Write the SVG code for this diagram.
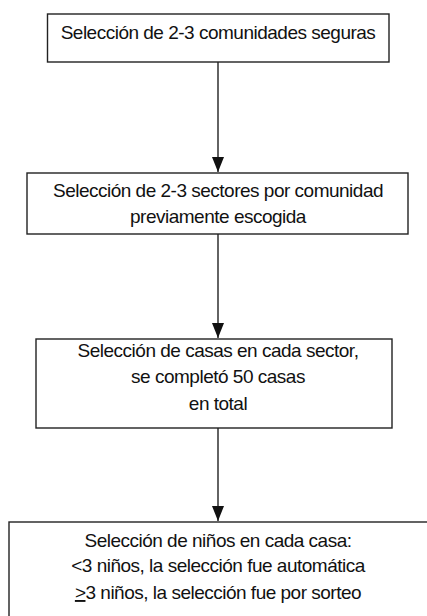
<svg xmlns="http://www.w3.org/2000/svg" width="427" height="616" viewBox="0 0 427 616">
<defs>
<style>
.box{fill:#fff;stroke:#222;stroke-width:1.4}
.t{font-family:"Liberation Sans",Arial,sans-serif;font-size:19px;letter-spacing:-0.5px;fill:#111;text-anchor:middle}
.c{stroke:#222;stroke-width:1.4;fill:none}
</style>
</defs>
<rect width="427" height="616" fill="#fff"/>
<g id="connectors">
<line class="c" x1="218" y1="62" x2="218" y2="172"/>
<path d="M212,157 L224,157 L218,172 Z" fill="#111"/>
<line class="c" x1="218" y1="234" x2="218" y2="338"/>
<path d="M212,323 L224,323 L218,338 Z" fill="#111"/>
<line class="c" x1="218" y1="428" x2="218" y2="521"/>
<path d="M212,506 L224,506 L218,521 Z" fill="#111"/>
</g>
<g id="n1">
<rect class="box" x="47.5" y="14" width="341.5" height="48"/>
<text class="t" x="218" y="39">Selección de 2-3 comunidades seguras</text>
</g>
<g id="n2">
<rect class="box" x="27" y="173" width="381" height="61"/>
<text class="t" x="218" y="197">Selección de 2-3 sectores por comunidad</text>
<text class="t" x="218" y="223">previamente escogida</text>
</g>
<g id="n3">
<rect class="box" x="36" y="339" width="356" height="89"/>
<text class="t" x="218" y="357">Selección de casas en cada sector,</text>
<text class="t" x="218" y="383">se completó 50 casas</text>
<text class="t" x="218" y="410">en total</text>
</g>
<g id="n4">
<rect class="box" x="9" y="522" width="440" height="120"/>
<text class="t" x="218" y="547">Selección de niños en cada casa:</text>
<text class="t" x="218" y="572">&lt;3 niños, la selección fue automática</text>
<text class="t" x="218" y="599"><tspan text-decoration="underline">&gt;</tspan>3 niños, la selección fue por sorteo</text>
</g>
</svg>
